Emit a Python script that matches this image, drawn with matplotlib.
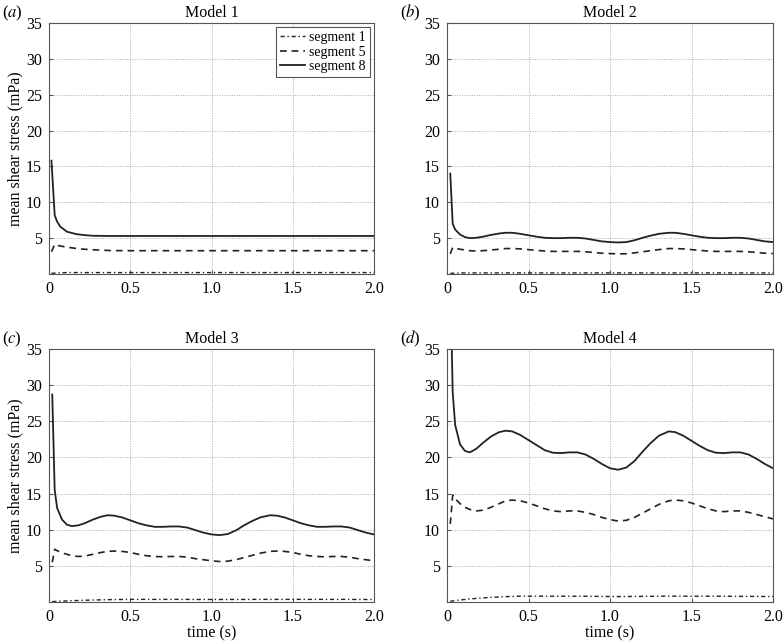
import numpy as np
import matplotlib
matplotlib.use("Agg")
import matplotlib.pyplot as plt

plt.rcParams['font.family'] = ['Liberation Serif', 'DejaVu Serif']
plt.rcParams['mathtext.fontset'] = 'stix'

# values (time in s, stress in mPa)
t1 = [0.015, 0.035, 0.05, 0.07, 0.11, 0.17, 0.22, 0.27, 0.38, 0.5, 1.0, 1.5, 2.0]
m1_seg8 = [15.8, 8.2, 7.3, 6.6, 5.9, 5.55, 5.42, 5.33, 5.3, 5.3, 5.3, 5.3, 5.3]
m1_seg5 = [3.1, 4.15, 4.0, 3.9, 3.75, 3.55, 3.45, 3.38, 3.27, 3.25, 3.25, 3.25, 3.25]
m1_seg1 = [0.1, 0.12, 0.15, 0.17, 0.2, 0.2, 0.2, 0.2, 0.2, 0.2, 0.2, 0.2, 0.2]

t = [0.02, 0.035, 0.05, 0.08, 0.11, 0.14, 0.18, 0.22, 0.27, 0.32, 0.36, 0.4, 0.45,
     0.5, 0.55, 0.6, 0.65, 0.7, 0.75, 0.8, 0.85, 0.9, 0.95, 1.0, 1.05, 1.1, 1.15,
     1.2, 1.25, 1.3, 1.36, 1.4, 1.45, 1.5, 1.55, 1.6, 1.65, 1.7, 1.75, 1.8, 1.85,
     1.9, 1.95, 2.0]

m2_seg8 = [14.0, 7.0, 6.2, 5.5, 5.15, 5.0, 5.05, 5.2, 5.45, 5.65, 5.75, 5.75, 5.6,
           5.4, 5.2, 5.05, 5.0, 5.0, 5.05, 5.05, 4.95, 4.75, 4.55, 4.45, 4.4, 4.45, 4.7,
           5.05, 5.35, 5.6, 5.75, 5.75, 5.6, 5.4, 5.2, 5.05, 5.0, 5.0, 5.05, 5.05, 4.95,
           4.75, 4.55, 4.45]
m2_seg5 = [2.8, 3.7, 3.6, 3.45, 3.35, 3.25, 3.2, 3.25, 3.35, 3.45, 3.55, 3.55, 3.5,
           3.4, 3.3, 3.2, 3.15, 3.15, 3.15, 3.15, 3.1, 3.0, 2.9, 2.85, 2.8, 2.82, 2.95,
           3.1, 3.25, 3.4, 3.55, 3.55, 3.5, 3.4, 3.3, 3.2, 3.15, 3.15, 3.15, 3.15, 3.1,
           3.0, 2.9, 2.85]
m2_seg1 = [0.08, 0.1, 0.12, 0.14, 0.15, 0.15, 0.15, 0.15, 0.15, 0.15, 0.15, 0.15, 0.15,
           0.15, 0.15, 0.15, 0.15, 0.15, 0.15, 0.15, 0.15, 0.15, 0.15, 0.15, 0.15, 0.15, 0.15,
           0.15, 0.15, 0.15, 0.15, 0.15, 0.15, 0.15, 0.15, 0.15, 0.15, 0.15, 0.15, 0.15, 0.15,
           0.15, 0.15, 0.15]

m3_seg8 = [28.7, 15.5, 13.0, 11.4, 10.7, 10.5, 10.6, 10.9, 11.4, 11.8, 12.0, 11.95, 11.7,
           11.3, 10.9, 10.6, 10.4, 10.4, 10.45, 10.45, 10.3, 9.95, 9.6, 9.35, 9.25, 9.4, 9.9,
           10.6, 11.2, 11.7, 12.0, 11.95, 11.7, 11.3, 10.9, 10.6, 10.4, 10.4, 10.45, 10.45, 10.3,
           9.95, 9.6, 9.35]
m3_seg5 = [5.5, 7.3, 7.1, 6.8, 6.6, 6.4, 6.3, 6.35, 6.6, 6.85, 7.0, 7.05, 7.0,
           6.85, 6.6, 6.4, 6.3, 6.25, 6.3, 6.3, 6.2, 6.0, 5.85, 5.7, 5.6, 5.65, 5.85,
           6.15, 6.45, 6.75, 7.0, 7.05, 7.0, 6.85, 6.6, 6.4, 6.3, 6.25, 6.3, 6.3, 6.2,
           6.0, 5.85, 5.7]
m3_seg1 = [0.05, 0.07, 0.09, 0.12, 0.15, 0.18, 0.21, 0.24, 0.27, 0.3, 0.32, 0.34, 0.35,
           0.36, 0.36, 0.36, 0.36, 0.36, 0.36, 0.36, 0.36, 0.35, 0.35, 0.35, 0.35, 0.35, 0.35,
           0.35, 0.36, 0.36, 0.36, 0.36, 0.36, 0.36, 0.36, 0.36, 0.36, 0.36, 0.36, 0.36, 0.36,
           0.35, 0.35, 0.35]

m4_seg8 = [45.0, 29.0, 24.5, 21.8, 20.9, 20.7, 21.2, 22.0, 22.9, 23.5, 23.7, 23.6, 23.1,
           22.4, 21.7, 21.0, 20.65, 20.6, 20.7, 20.7, 20.4, 19.8, 19.1, 18.5, 18.3, 18.6, 19.5,
           20.8, 22.0, 23.0, 23.6, 23.5, 23.0, 22.3, 21.6, 21.0, 20.65, 20.6, 20.7, 20.7, 20.4,
           19.8, 19.1, 18.5]
m4_seg5 = [10.8, 14.8, 14.3, 13.6, 13.1, 12.8, 12.6, 12.7, 13.1, 13.6, 14.0, 14.1, 14.0,
           13.7, 13.3, 12.9, 12.6, 12.5, 12.6, 12.6, 12.4, 12.1, 11.7, 11.4, 11.2, 11.3, 11.7,
           12.3, 12.9, 13.5, 14.0, 14.1, 14.0, 13.7, 13.3, 12.9, 12.6, 12.5, 12.6, 12.6, 12.4,
           12.1, 11.8, 11.5]
m4_seg1 = [0.1, 0.15, 0.2, 0.28, 0.35, 0.42, 0.5, 0.57, 0.64, 0.7, 0.74, 0.77, 0.8,
           0.8, 0.81, 0.81, 0.8, 0.8, 0.8, 0.8, 0.79, 0.78, 0.77, 0.76, 0.75, 0.76, 0.77,
           0.78, 0.79, 0.8, 0.81, 0.81, 0.81, 0.8, 0.8, 0.8, 0.8, 0.79, 0.79, 0.78, 0.78,
           0.77, 0.76, 0.75]

titles = ['Model 1', 'Model 2', 'Model 3', 'Model 4']
letters = ['a', 'b', 'c', 'd']
times = [t1, t, t, t]
seg1 = [m1_seg1, m2_seg1, m3_seg1, m4_seg1]
seg5 = [m1_seg5, m2_seg5, m3_seg5, m4_seg5]
seg8 = [m1_seg8, m2_seg8, m3_seg8, m4_seg8]

fig = plt.figure(figsize=(7.83, 6.43), dpi=100)
W, H = 783, 643
# axes boxes in pixels: left, top, right, bottom
boxes = [(49, 23, 374, 274), (447, 23, 773, 274),
         (49, 349, 374, 602), (447, 349, 773, 602)]

for i in range(4):
    l, tp, r, b = boxes[i]
    ax = fig.add_axes([l / W, 1 - b / H, (r - l) / W, (b - tp) / H])
    ax.plot(times[i], seg1[i], color='#222222', lw=1.0, dashes=(3, 2, 1, 2), label='segment 1')
    ax.plot(times[i], seg5[i], color='#222222', lw=1.2, dashes=(4, 3), label='segment 5')
    ax.plot(times[i], seg8[i], color='#222222', lw=1.3, label='segment 8')
    ax.set_xlim(0, 2)
    ax.set_ylim(0, 35)
    ax.set_xticks([0, 0.5, 1.0, 1.5, 2.0])
    ax.set_xticklabels(['0', '0.5', '1.0', '1.5', '2.0'])
    ax.set_yticks([5, 10, 15, 20, 25, 30, 35])
    ax.grid(True, color='#aaaaaa', linestyle=(0, (1, 1.5)), linewidth=0.7)
    ax.tick_params(direction='in', length=3, labelsize=11.5, color='#555555', pad=5)
    for s in ax.spines.values():
        s.set_color('#555555')
        s.set_linewidth(0.8)
    ax.set_title(titles[i], fontsize=11.5, pad=4)
    if i % 2 == 0:
        ax.set_ylabel('mean shear stress (mPa)', fontsize=11.5, labelpad=2)
    if i >= 2:
        ax.set_xlabel('time (s)', fontsize=11.5, labelpad=0)
    fig.text((l - 47) / W, 1 - (tp - 10) / H, '(' + r'$\it{' + letters[i] + '}$' + ')',
             fontsize=12, ha='left', va='center')
    if i == 0:
        leg = ax.legend(loc='upper right', fontsize=10, handlelength=1.8, handletextpad=0.3,
                        borderpad=0.3, labelspacing=0.1, fancybox=False, framealpha=1,
                        borderaxespad=0.3)
        leg.get_frame().set_edgecolor('#555555')
        leg.get_frame().set_linewidth(0.8)

fig.savefig('out.png', dpi=100)
